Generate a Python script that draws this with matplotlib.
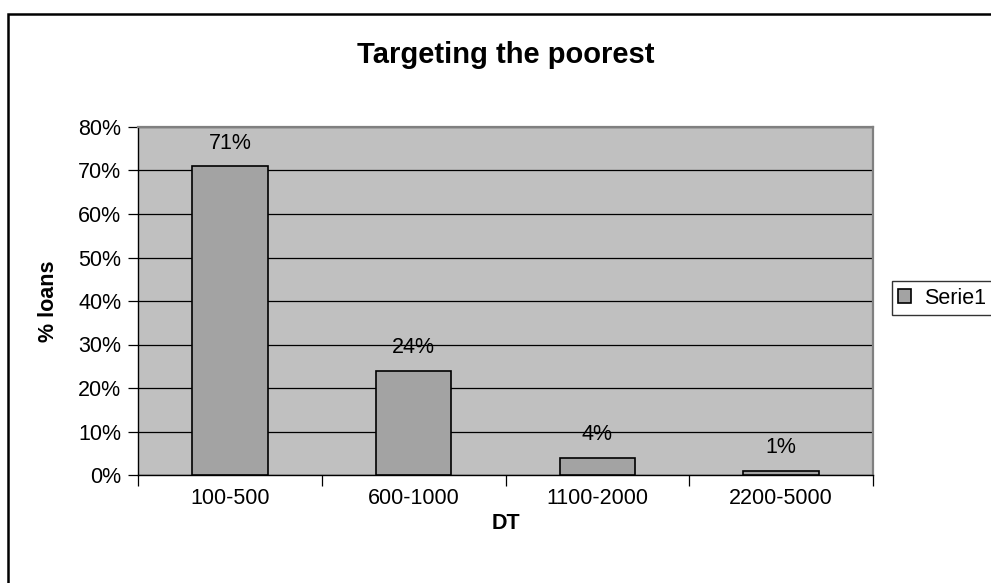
import matplotlib
matplotlib.use("Agg")
import matplotlib.pyplot as plt
from matplotlib.patches import Rectangle
from matplotlib.ticker import FixedLocator, NullFormatter

categories = ["100-500", "600-1000", "1100-2000", "2200-5000"]
values = [71, 24, 4, 1]
series_name = "Serie1"
y_ticks = [0, 10, 20, 30, 40, 50, 60, 70, 80]

plt.rcParams["font.family"] = ["Liberation Sans", "DejaVu Sans"]

W, H = 991, 583
fig = plt.figure(figsize=(W / 100, H / 100), dpi=100)
fig.patch.set_facecolor("white")

# outer chart frame (runs off the right and bottom edges)
fig.patches.append(Rectangle((8 / W, -0.05), 1.2, 1 - 14 / H + 0.05,
                             transform=fig.transFigure, fill=False,
                             edgecolor="black", linewidth=1.8))

left, right, top, bottom = 138, 873, 127, 475
ax = fig.add_axes([left / W, 1 - bottom / H, (right - left) / W, (bottom - top) / H])
ax.set_facecolor("#C0C0C0")

x = list(range(len(categories)))
bars = ax.bar(x, values, width=0.41, color="#A3A3A3", edgecolor="black",
              linewidth=1.2, zorder=3, label=series_name)

fs = 15.5
ax.set_ylim(0, 80)
ax.set_xlim(-0.5, len(categories) - 0.5)
ax.set_yticks(y_ticks)
ax.set_yticklabels([f"{t}%" for t in y_ticks], fontsize=fs)
ax.yaxis.grid(True, color="black", linewidth=0.9, zorder=1)
ax.set_axisbelow(True)

ax.set_xticks(x)
ax.set_xticklabels(categories, fontsize=fs)
ax.tick_params(axis="x", which="major", length=0, pad=9)
ax.xaxis.set_minor_locator(FixedLocator([i - 0.5 for i in range(len(categories) + 1)]))
ax.xaxis.set_minor_formatter(NullFormatter())
ax.tick_params(axis="x", which="minor", length=8, direction="out", width=0.9)
ax.tick_params(axis="y", length=7, direction="out", width=0.9, pad=5)

for side in ("top", "right"):
    ax.spines[side].set_color("#808080")
    ax.spines[side].set_linewidth(1.6)
for side in ("left", "bottom"):
    ax.spines[side].set_color("black")
    ax.spines[side].set_linewidth(1.0)

for rect, v in zip(bars, values):
    ax.annotate(f"{v}%", (rect.get_x() + rect.get_width() / 2, v),
                xytext=(0, 9), textcoords="offset points",
                ha="center", va="bottom", fontsize=fs)

ax.set_ylabel("% loans", fontsize=fs, fontweight="bold", labelpad=14)
ax.set_xlabel("DT", fontsize=fs, fontweight="bold", labelpad=3)

fig.text((left + right) / 2 / W, 1 - 55 / H, "Targeting the poorest",
         ha="center", va="center", fontsize=21, fontweight="bold")

leg = fig.legend(handles=[bars[0]], labels=[series_name], loc="center left",
                 bbox_to_anchor=(892 / W, 1 - 298 / H), fontsize=fs,
                 frameon=True, fancybox=False, edgecolor="black",
                 handlelength=0.6, handleheight=0.6, handletextpad=0.6,
                 borderpad=0.3, borderaxespad=0)
leg.get_frame().set_linewidth(1.0)

fig.savefig("out.png", dpi=100)
